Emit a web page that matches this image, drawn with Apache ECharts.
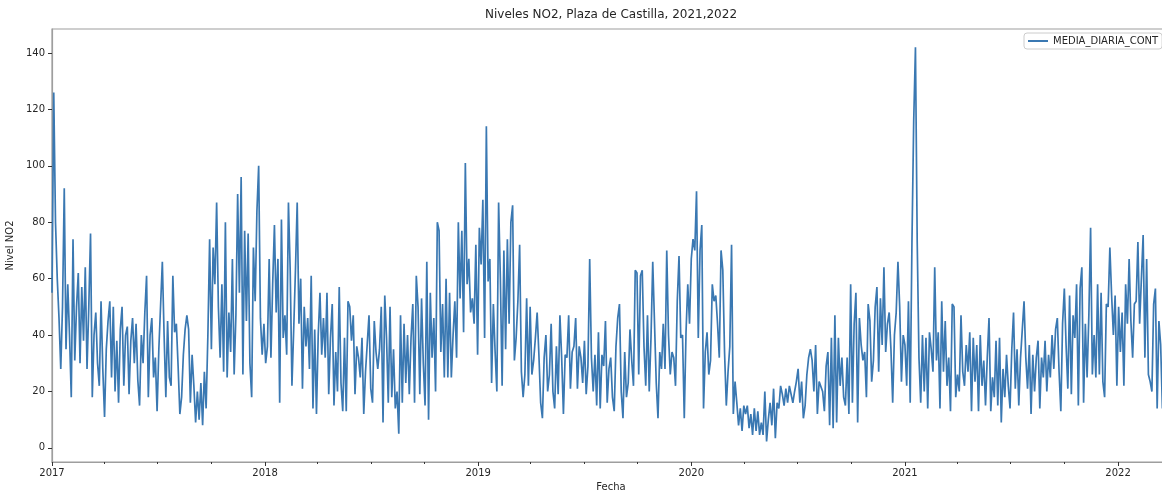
<!DOCTYPE html>
<html><head><meta charset="utf-8">
<script src="https://cdn.jsdelivr.net/npm/echarts@6/dist/echarts.min.js"></script>
<style>html,body{margin:0;padding:0;background:#fff}#c{width:1162px;height:491px}</style>
</head><body><div id="c"></div>
<script>
// Daily NO2 readings sampled every 3 days starting 2017-01-01
const stepDays = 3;
const no2_2017 = [55,126,80,60,46,28,50,92,35,58,
 40,18,74,31,50,62,30,57,38,64,
 28,50,76,18,40,48,30,22,52,28,
 11,35,45,52,25,50,20,38,16,42,
 50,22,40,43,19,38,46,30,44,24,
 15,40,30,48,61,18,40,46,25,32,
 13,35,35,66,40,18,45,25,22,61,
 41,44,29,12,18,33,42,47,42,16,
 33,22,9,20,10,23,8,27,14,40,
 74,35,71,58,87,50,32,58,27,80,
 25,48,34,67,26,47,90,55,96,26,
 77,45,76,30,18,71,52,84,100,46,
 33,44];
const no2_2018 = [30,36,67,32,58,79,48,67,
 16,81,39,47,33,87,63,22,42,63,
 87,44,60,21,50,36,46,28,61,14,
 42,12,40,55,33,46,32,55,19,39,
 51,15,34,20,57,23,13,39,13,52,
 50,38,47,19,36,32,25,39,12,27,
 37,47,21,16,45,34,28,35,50,9,
 54,39,16,50,18,35,14,20,5,47,
 16,44,23,40,19,39,51,16,61,50,
 19,53,30,15,66,10,55,32,46,20,
 80,77,34,51,25,60,25,55,25,40,
 52,32,80,53,77,41,101,58,67,48,
 53,44,72,33];
const no2_2019 = [78,65,88,39,114,59,
 67,23,51,34,20,87,60,22,70,35,
 74,44,80,86,31,39,52,72,27,18,
 26,53,22,50,26,31,39,48,33,16,
 10.5,32,40,20,26,44,20,14,36,19,
 47,32,12,33,32,47,21,34,36,46,
 21,36,32,23,38,19,29,67,32,20,
 33,15,41,14,33,29,45,16,28,32,
 18,13,36,46,51,20,10.5,34,18,23,
 42,31,22,63,62,26,61,63,36,22,
 47,20,39,66,66,23,10.5,34,28,44,
 28,70,40,26,34,32,22,52,68,39,
 40,10.5,41,58,44];
const no2_2020 = [67,74,70,91,39,
 70,79,14,34,41,26,31,58,52,54,
 44,32,70,63,34,15,27,36,72,12,
 23.5,16,8,14,6,15,12,15,7,12,
 4.6,14,6,13,4.6,9,4.6,20,2.3,10,
 16,8,21,3.4,16,14,22,19,15,21,
 16,22,22,16,20,23.5,28,16,23.5,10.5,
 15,26,32,35,31,20,36.5,12,23.5,23,
 20,13,29,34,8,39,7,47,9,39,
 22,32,18,15,32,12,58,16,44,55,
 9,46,36.5,31,34,18,51,45,23.5,31,
 50,57,27,53,36.5,64,34,44,48,35,
 16,40,48,66,50,23.5,40];
const no2_2021 = [36.5,22,52,
 16,73,116,142,73,32,16,40,20,39,
 14,41,35,27,64,31,41,14,52,27,
 45,22,32,13,51,50,18,26,20,47,
 27,22,36.5,27,41,13,39,23.5,36.5,13,
 40,22,31,15,32,46,13,25,18,38,
 15,39,9,28,18,33,22,14,35,48,
 21,35,15,32,42,52,32,21,36.5,12,
 33,20,32,38,14,32,25,38,20,33,
 25,40,28,42,46,27,13,44,56.5,36.5,
 21,54,19,47,39,58,15,56.5,64,16,
 44,25,47,78,26,40,25,58,26,55,
 23.5,18,51,50,71,54,40,54,22];
const no2_2022 = [50,34,48,22,58,44,67,45,32,51,52,
 73,44,60,75.5,32,67,26,23.5,20,51,
 56.5,14,45,36.5,14,34];

const seriesName = 'MEDIA_DIARIA_CONT';
const yearLabels = ['2017','2018','2019','2020','2021','2022'];
const yTickLabels = [0,20,40,60,80,100,120,140];
const quarterMonths = [3,6,9];

const DAY = 86400000;
const t0 = Date.UTC(2017,0,1);
const xMin = t0;
const xMax = Date.UTC(2022,2,31);
const values = [].concat(no2_2017,no2_2018,no2_2019,no2_2020,no2_2021,no2_2022);
const data = values.map((v,i)=>[t0 + i*stepDays*DAY, v]);
const yearTicks = yearLabels.map(y=>Date.UTC(+y,0,1));
const quarterTicks = [];
yearLabels.forEach(y=>quarterMonths.forEach(m=>{const t=Date.UTC(+y,m,1); if(t<=xMax) quarterTicks.push(t);}));

const font = "'DejaVu Sans', sans-serif";
const txt = '#262626';
const spine = '#9e9e9e';
const lineColor = '#3a78b2';

const chart = echarts.init(document.getElementById('c'), null, {renderer:'canvas'});
chart.setOption({
  animation:false,
  title:{text:'Niveles NO2, Plaza de Castilla, 2021,2022', left:611, top:9, textAlign:'center', padding:0,
    textStyle:{fontFamily:font,fontSize:12,fontWeight:'normal',color:txt}},
  legend:{data:[seriesName], left:1024, top:33, icon:'rect', itemWidth:20, itemHeight:2, padding:[3,4,3,4],
    borderColor:'#cccccc', borderWidth:1, borderRadius:3, backgroundColor:'rgba(255,255,255,0.8)',
    textStyle:{fontFamily:font,fontSize:10,color:txt}},
  grid:{left:52, top:29, width:1118, height:433, show:true, borderColor:spine, borderWidth:1.2,
    backgroundColor:'transparent', containLabel:false, outerBoundsMode:'none'},
  xAxis:[{type:'value', min:xMin, max:xMax, name:'Fecha', nameLocation:'middle', nameGap:19,
      nameTextStyle:{fontFamily:font,fontSize:10,color:txt},
      axisLine:{show:true,onZero:false,lineStyle:{color:spine,width:1.2}}, splitLine:{show:false},
      axisTick:{show:true, customValues:yearTicks, length:4, lineStyle:{color:'#333'}},
      axisLabel:{customValues:yearTicks, formatter:v=>String(new Date(v).getUTCFullYear()), fontFamily:font, fontSize:10, color:txt, margin:6}},
    {type:'value', min:xMin, max:xMax, gridIndex:0, position:'bottom', axisLine:{show:false,onZero:false},
      axisTick:{show:true, customValues:quarterTicks, length:2, lineStyle:{color:'#333'}},
      axisLabel:{show:false}, splitLine:{show:false}}],
  yAxis:{type:'value', min:-5, max:148.5, name:'Nivel NO2', nameLocation:'middle', nameGap:32, nameRotate:90,
    nameTextStyle:{fontFamily:font,fontSize:10,color:txt},
    axisLine:{show:true,onZero:false,lineStyle:{color:spine,width:1.2}},
    axisTick:{show:true, customValues:yTickLabels, length:4, lineStyle:{color:'#333'}},
    axisLabel:{customValues:yTickLabels, fontFamily:font, fontSize:10, color:txt, margin:7},
    splitLine:{show:false}},
  series:[{name:seriesName, type:'line', data:data, xAxisIndex:0, symbol:'none', showSymbol:false,
    lineStyle:{color:lineColor,width:1.7}, itemStyle:{color:lineColor}, z:3}]
});
</script></body></html>
